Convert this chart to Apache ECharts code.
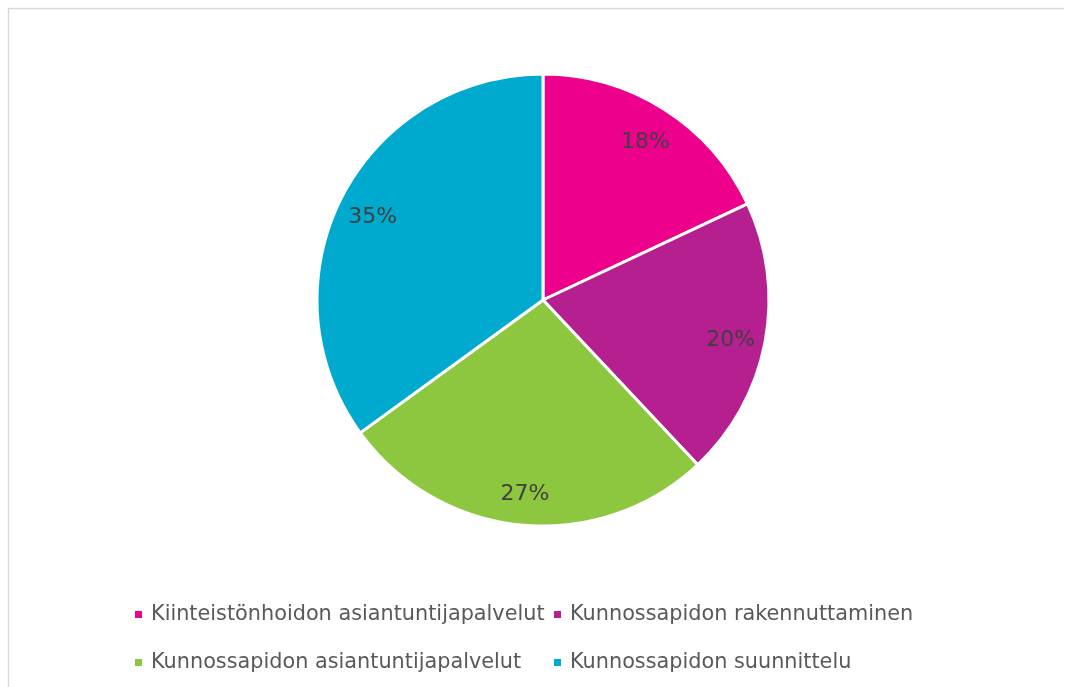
<!DOCTYPE html>
<html><head><meta charset="utf-8">
<script src="https://cdn.jsdelivr.net/npm/echarts@6/dist/echarts.min.js"></script>
<style>html,body{margin:0;padding:0;background:#fff;overflow:hidden}#c{width:1065px;height:687px}</style>
</head><body><div id="c"></div>
<script>
const categories = ["Kiinteistönhoidon asiantuntijapalvelut","Kunnossapidon rakennuttaminen","Kunnossapidon asiantuntijapalvelut","Kunnossapidon suunnittelu"];
const values = [18, 20, 27, 35];
const colors = ["#EC008C","#B51F8F","#8DC63F","#00A9CE"];
const legendCol1 = [categories[0], categories[2]];
const legendCol2 = [categories[1], categories[3]];

const chart = echarts.init(document.getElementById('c'));
const data = categories.map((n,i)=>({name:n,value:values[i],itemStyle:{color:colors[i]}}));
const legendBase = {orient:'vertical', top:604, padding:0, itemWidth:9, itemHeight:9, itemGap:27, icon:'rect',
  textStyle:{fontFamily:'DejaVu Sans', fontSize:20.8, lineHeight:21, color:'#595959', padding:[0,0,0,3]}};
chart.setOption({
  animation:false,
  graphic:[
    {type:'line', shape:{x1:8.5,y1:8,x2:8.5,y2:700}, style:{stroke:'#d9d9d9', lineWidth:1.5}},
    {type:'line', shape:{x1:8,y1:8.5,x2:1064,y2:8.5}, style:{stroke:'#d9d9d9', lineWidth:1.5}}
  ],
  legend:[
    Object.assign({left:133, data:legendCol1}, legendBase),
    Object.assign({left:552, data:legendCol2}, legendBase)
  ],
  series:[
    {type:'pie', center:[543,300], radius:[0,226], startAngle:90, clockwise:true, data:data,
     itemStyle:{borderColor:'#fff', borderWidth:3}, label:{show:false}, labelLine:{show:false}, silent:true},
    {type:'pie', center:[543,300], radius:[150,226], startAngle:90, clockwise:true, silent:true,
     data:categories.map((n,i)=>({name:n,value:values[i],itemStyle:{color:'rgba(0,0,0,0)'}})),
     itemStyle:{borderWidth:0},
     label:{show:true, position:'inside', formatter:'{d}%', fontFamily:'DejaVu Sans', fontSize:22, color:'#404040', offset:[0,4]},
     labelLine:{show:false}, legendHoverLink:false}
  ]
});
</script></body></html>
